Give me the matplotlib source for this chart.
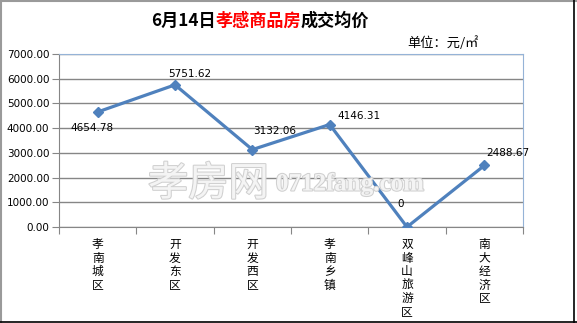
import matplotlib
matplotlib.use('Agg')
import matplotlib.pyplot as plt
import matplotlib.patheffects as pe
from matplotlib.offsetbox import TextArea, HPacker, AnchoredOffsetbox
from matplotlib.lines import Line2D

plt.rcParams['font.family'] = ['Noto Sans CJK SC', 'DejaVu Sans']

# datos
distritos = ["孝南城区", "开发东区", "开发西区", "孝南乡镇", "双峰山旅游区", "南大经济区"]
precios = [4654.78, 5751.62, 3132.06, 4146.31, 0, 2488.67]
yticks = [0, 1000, 2000, 3000, 4000, 5000, 6000, 7000]
# desplazamiento de las etiquetas (pixeles)
offs = [(-27, -16), (-7, 11), (1, 19), (8, 9), (-10, 23), (2, 12)]

fig = plt.figure(figsize=(5.77, 3.23), dpi=100)
ax = fig.add_axes([59 / 577, 1 - 227 / 323, (523 - 59) / 577, (227 - 54) / 323])

x = list(range(len(distritos)))
ax.plot(x, precios, color='#4F81BD', lw=2.3, marker='D', ms=5.5, zorder=3)

for xi, v, (dx, dy) in zip(x, precios, offs):
    txt = "0" if v == 0 else f"{v:.2f}"
    ax.annotate(txt, (xi, v), xytext=(dx, dy), textcoords='offset pixels',
                ha='left', va='center', fontsize=7.5, family='DejaVu Sans')

ax.set_xlim(-0.5, len(distritos) - 0.5)
ax.set_ylim(0, 7000)
ax.set_yticks(yticks)
ax.set_yticklabels([f"{t:.2f}" for t in yticks], fontsize=7.5, family='DejaVu Sans')
ax.yaxis.grid(True, color='#868686', lw=1)
ax.set_axisbelow(True)

# ticks de categoria en los bordes
ax.set_xticks([i - 0.5 for i in range(len(distritos) + 1)])
ax.set_xticklabels([])
ax.set_xticks(x, minor=True)
ax.set_xticklabels(["\n".join(d) for d in distritos], minor=True, fontsize=8.5,
                   va='top', linespacing=1.05)
ax.tick_params(axis='x', which='minor', length=0, pad=8)
ax.tick_params(axis='x', which='major', length=5, color='#868686', direction='out')
ax.tick_params(axis='y', length=5, color='#868686', pad=2)

for s in ['left', 'bottom']:
    ax.spines[s].set_color('#868686')
for s in ['top', 'right']:
    ax.spines[s].set_color('#95B3D7')

# marca de agua
efecto = [pe.withStroke(linewidth=1.5, foreground='#d0d0d0')]
fig.text(148 / 577, 1 - 184 / 323, "孝房网", fontsize=29, color='#f4f4f4',
         ha='left', va='center', zorder=5, path_effects=efecto)
fig.text(276 / 577, 1 - 184 / 323, "0712fang.com", fontsize=18, color='#f4f4f4',
         ha='left', va='center', zorder=5, family='Liberation Serif', fontweight='bold',
         path_effects=efecto)

# titulo con colores
partes = [("6月14日", 'black'), ("孝感商品房", 'red'), ("成交均价", 'black')]
cajas = [TextArea(t, textprops=dict(color=c, fontsize=12.3, fontweight='bold')) for t, c in partes]
pack = HPacker(children=cajas, align='baseline', pad=0, sep=0)
ab = AnchoredOffsetbox(loc='center', child=pack, frameon=False, pad=0, borderpad=0,
                       bbox_to_anchor=(260 / 577, 1 - 21 / 323), bbox_transform=fig.transFigure)
fig.add_artist(ab)

fig.text(479 / 577, 1 - 43 / 323, "单位：元/㎡", ha='right', va='center', fontsize=9.5)

# borde
fig.add_artist(Line2D([0, 1], [0.998, 0.998], transform=fig.transFigure, color='#9a9a9a', lw=1.5))
fig.add_artist(Line2D([0.002, 0.002], [0, 1], transform=fig.transFigure, color='#9a9a9a', lw=1.5))
fig.add_artist(Line2D([0.994, 0.994], [0, 1], transform=fig.transFigure, color='black', lw=1.2))
fig.add_artist(Line2D([0, 1], [0.004, 0.004], transform=fig.transFigure, color='black', lw=1.2))

fig.savefig('out.png', dpi=100)
